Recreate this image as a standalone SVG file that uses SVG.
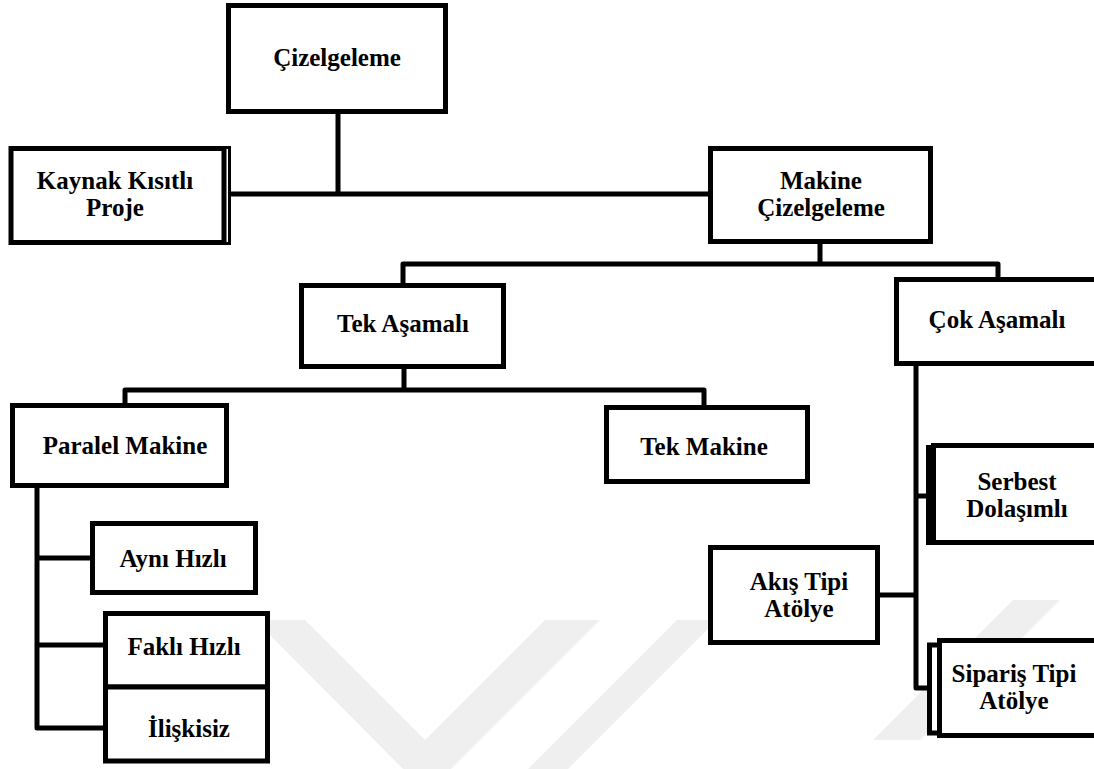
<svg xmlns="http://www.w3.org/2000/svg" width="1094" height="769" viewBox="0 0 1094 769">
<style>
.box{fill:#fff;stroke:#000;stroke-width:5}
.thin{fill:none;stroke:#000;stroke-width:3}
.con{fill:none;stroke:#000;stroke-width:5;stroke-linejoin:round}
.wm{fill:#efefef}
text{font-family:"Liberation Serif","Times New Roman",serif;font-weight:bold;font-size:25px;text-anchor:middle;fill:#000}
</style>
<rect width="1094" height="769" fill="#fff"/>
<g id="watermark">
<polygon class="wm" points="255,620 305,620 425,740 545,620 600,620 427,793"/>
<polygon class="wm" points="677,620 717,620 568,769 528,769"/>
<polygon class="wm" points="1013,600 1060,600 920,740 873,740"/>
</g>
<g id="connectors">
<path class="con" d="M338,114 V194 M229,194 H710"/>
<path class="con" d="M820,244 V264 M403,285 V264 H998 V279"/>
<path class="con" d="M404,369 V390 M125,405 V390 H704 V407"/>
<path class="con" d="M37,488 V728 H105 M37,558 H92 M37,645 H105"/>
<path class="con" d="M916,366 V688 H927 M916,496 H928 M880,595 H916"/>
</g>
<g id="n-cizelgeleme">
<rect class="box" x="228.5" y="5.5" width="217" height="106"/>
<text x="337" y="66">Çizelgeleme</text>
</g>
<g id="n-kaynak">
<rect class="box" x="11" y="148.5" width="213" height="94"/>
<path class="thin" d="M224,147.5 H229.5 V243.5 H224"/>
<text x="115" y="189">Kaynak Kısıtlı</text>
<text x="115" y="216">Proje</text>
</g>
<g id="n-makine">
<rect class="box" x="710.5" y="148.5" width="220" height="93"/>
<text x="821" y="189">Makine</text>
<text x="821" y="216">Çizelgeleme</text>
</g>
<g id="n-tekasamali">
<rect class="box" x="301.5" y="285.5" width="202" height="81"/>
<text x="403" y="332">Tek Aşamalı</text>
</g>
<g id="n-cokasamali">
<rect class="box" x="896.5" y="279.5" width="210" height="84"/>
<text x="997" y="328">Çok Aşamalı</text>
</g>
<g id="n-paralel">
<rect class="box" x="12.5" y="405.5" width="214" height="80"/>
<text x="125" y="454">Paralel Makine</text>
</g>
<g id="n-tekmakine">
<rect class="box" x="606.5" y="407.5" width="201" height="74"/>
<text x="704" y="455">Tek Makine</text>
</g>
<g id="n-ayni">
<rect class="box" x="92.5" y="523.5" width="163" height="69"/>
<text x="173" y="567">Aynı Hızlı</text>
</g>
<g id="n-fakli">
<rect class="box" x="105.5" y="613.5" width="162" height="73.5"/>
<text x="184" y="655">Faklı Hızlı</text>
</g>
<g id="n-iliskisiz">
<rect class="box" x="105.5" y="687" width="162" height="74"/>
<text x="189" y="737">İlişkisiz</text>
</g>
<g id="n-serbest">
<rect class="box" x="928.5" y="447.5" width="180" height="95"/>
<rect class="box" x="933.5" y="445.5" width="180" height="97"/>
<text x="1017" y="490">Serbest</text>
<text x="1017" y="517">Dolaşımlı</text>
</g>
<g id="n-akis">
<rect class="box" x="710.5" y="547.5" width="167" height="95"/>
<text x="799" y="590">Akış Tipi</text>
<text x="799" y="617">Atölye</text>
</g>
<g id="n-siparis">
<rect class="box" x="929.5" y="645" width="180" height="88"/>
<rect class="box" x="939.5" y="640.5" width="180" height="95"/>
<text x="1014" y="682">Sipariş Tipi</text>
<text x="1014" y="709">Atölye</text>
</g>
</svg>
